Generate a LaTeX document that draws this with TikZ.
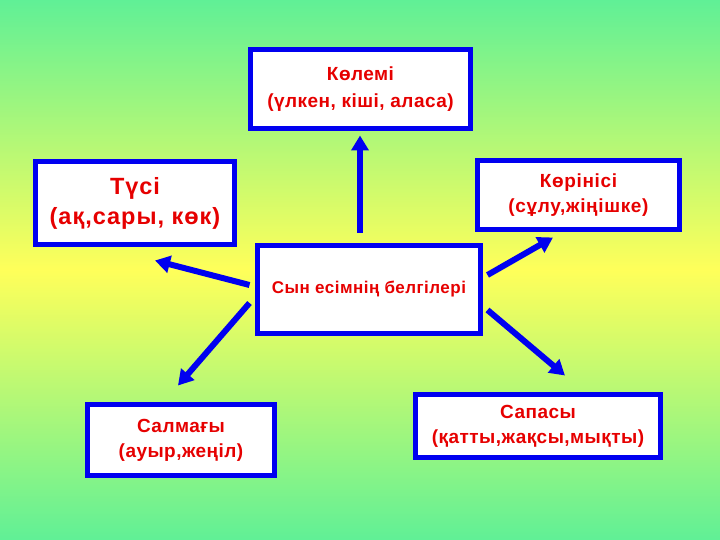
\documentclass[tikz,border=0pt]{standalone}
\usepackage{fontspec}
\setmainfont{Liberation Sans}
\usetikzlibrary{arrows.meta,calc}
\definecolor{bgGreen}{RGB}{96,240,150}
\definecolor{bgYellow}{RGB}{255,255,90}
\definecolor{boxBlue}{RGB}{0,0,240}
\definecolor{txtRed}{RGB}{230,0,0}
\newcommand{\boxfont}[3]{\bfseries\fontsize{#1}{#2}\selectfont\addfontfeatures{LetterSpace=#3}}
\tikzset{
  box/.style={draw=boxBlue, line width=5pt, fill=white, inner sep=0pt, align=center,
    text=txtRed, font=\bfseries},
  arr/.style={draw=boxBlue, line width=6pt, -{Triangle[length=15pt,width=17pt]}},
}
\begin{document}
\begin{tikzpicture}[x=1pt,y=-1pt]
\shade[top color=bgGreen, bottom color=bgGreen, middle color=bgYellow] (0,0) rectangle (720,540);
\useasboundingbox (0,0) rectangle (720,540);
\node[box, minimum width=220pt, minimum height=79pt, font=\boxfont{19}{27}{2.5}] (vol) at (360.5,89) {Көлемі\\(үлкен, кіші, аласа)};
\node[box, minimum width=199pt, minimum height=83pt, font=\boxfont{23.5}{30}{4.2}] (col) at (135,203) {Түсі\\(ақ,сары, көк)};
\node[box, minimum width=202pt, minimum height=69pt, font=\boxfont{19}{25}{3.5}] (look) at (578.5,195) {Көрінісі\\(сұлу,жіңішке)};
\node[box, minimum width=223pt, minimum height=88pt, font=\boxfont{17}{22}{2.8}] (c) at (369,289.5) {Сын есімнің белгілері};
\node[box, minimum width=187pt, minimum height=71pt, font=\boxfont{19}{25}{2.4}] (wt) at (181,440) {Салмағы\\(ауыр,жеңіл)};
\node[box, minimum width=245pt, minimum height=63pt, font=\boxfont{19}{25}{2.4}] (q) at (538,426) {Сапасы\\(қатты,жақсы,мықты)};
\draw[arr] ($(c.north)+(-9,-10.5)$) -- ($(vol.south)+(-0.5,4.5)$);
\draw[arr] ($(c.west)+(-5.5,-4.5)$) -- ($(col.south)+(20,13.5)$);
\draw[arr] ($(c.west)+(-5.5,13.5)$) -- ($(wt.north)+(-3,-16.5)$);
\draw[arr] ($(c.east)+(4.5,-14.5)$) -- ($(look.south)+(-25.5,5.5)$);
\draw[arr] ($(c.east)+(4.5,20.5)$) -- ($(q.north)+(27,-16.5)$);
\end{tikzpicture}
\end{document}
